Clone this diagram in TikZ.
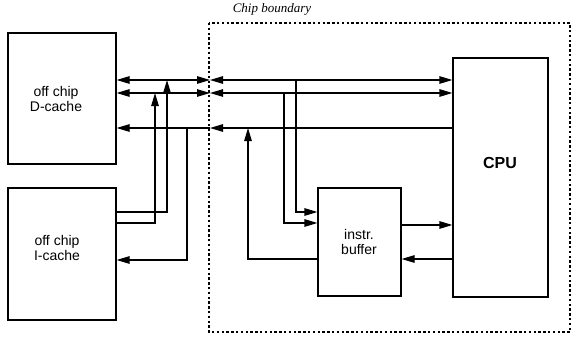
\documentclass[tikz,border=0pt]{standalone}
\usepackage{fontspec}
\setmainfont{Liberation Sans}
\newfontfamily\chipserif{Liberation Serif}
\usetikzlibrary{arrows.meta}
\begin{document}
\begin{tikzpicture}[x=1pt,y=-1pt,
  box/.style={draw,line width=1.2pt,rectangle,inner sep=0pt},
  conn/.style={line width=1.2pt},
  tip/.tip={Triangle[length=13pt,width=7.5pt]},
  arr/.style={-tip},
  both/.style={tip-tip},
  lbl/.style={font=\fontsize{14}{15}\selectfont,align=center,inner sep=0pt}]
\useasboundingbox (0,0) rectangle (572,337);

% boxes
\node[box,minimum width=108pt,minimum height=131pt] (dcache) at (62,98.5) {};
\node[box,minimum width=108pt,minimum height=132pt] (icache) at (62,254) {};
\node[box,minimum width=95pt,minimum height=239pt] (cpu) at (500.5,177.5) {};
\node[box,minimum width=83pt,minimum height=108pt] (buf) at (359.5,242) {};

% labels
\node[lbl] (dlbl) at (56,98.5) {off chip\\D-cache};
\node[lbl] (ilbl) at (57,248) {off chip\\I-cache};
\node[lbl] (blbl) at (359,242) {instr.\\buffer};
\node[font=\bfseries\fontsize{16}{18}\selectfont,inner sep=0pt] (clbl) at (500,163) {CPU};

% chip boundary
\draw[line width=2.6pt,dash pattern=on 2.4pt off 2.4pt] (209,23) rectangle (570,332);
\node[font=\chipserif\itshape\fontsize{13}{15}\selectfont,inner sep=0pt] (title) at (272,9) {Chip boundary};

% boundary crossing points
\coordinate (bA) at (210,80);
\coordinate (bB) at (210,93);
\coordinate (bC) at (210,128);

% taps
\coordinate (t1) at (167,80);
\coordinate (t2) at (155,93);
\coordinate (t3) at (187,128);
\coordinate (t4) at (248,128);
\coordinate (t5) at (284,93);
\coordinate (t6) at (296,80);

% buses
\draw[conn,both] (dcache.east |- bA) -- (bA);
\draw[conn,both] (bA) -- (cpu.west |- bA);
\draw[conn,both] (dcache.east |- bB) -- (bB);
\draw[conn,both] (bB) -- (cpu.west |- bB);
\draw[conn,arr] (cpu.west |- bC) -- (bC);
\draw[conn,arr] (bC) -- (dcache.east |- bC);

% I-cache connections
\draw[conn,arr] (icache.east |- 0,212) -| (t1);
\draw[conn,arr] (icache.east |- 0,223) -| (t2);
\draw[conn,arr] (t3) |- (icache.east |- 0,260);

% instruction buffer connections
\draw[conn,arr] (buf.west |- 0,259) -| (t4);
\draw[conn,arr] (t5) |- (buf.west |- 0,223);
\draw[conn,arr] (t6) |- (buf.west |- 0,212);
\draw[conn,arr] (buf.east |- 0,225) -- (cpu.west |- 0,225);
\draw[conn,arr] (cpu.west |- 0,259) -- (buf.east |- 0,259);
\end{tikzpicture}
\end{document}
